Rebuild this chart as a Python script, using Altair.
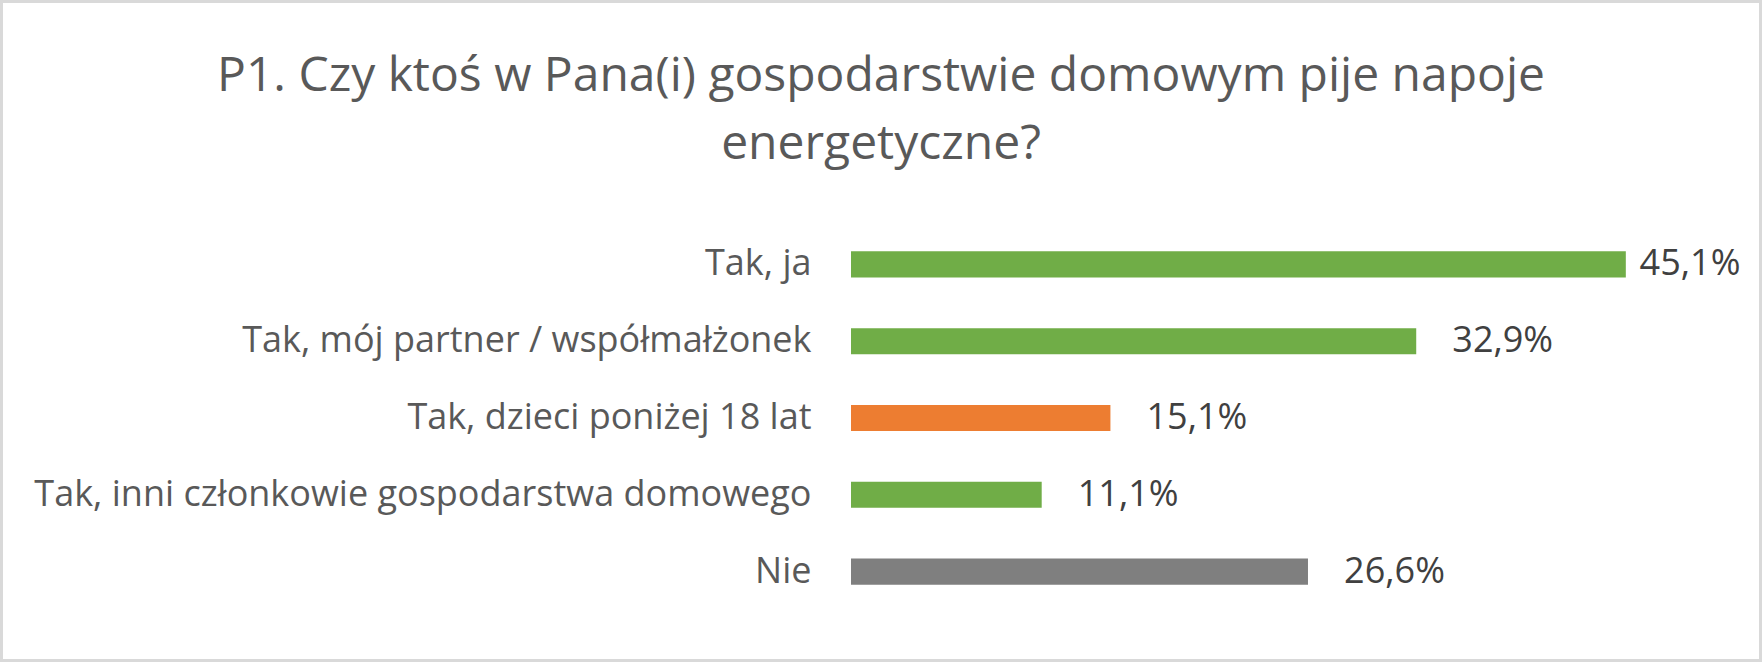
import altair as alt
import pandas as pd

categories = [
    "Tak, ja",
    "Tak, mój partner / współmałżonek",
    "Tak, dzieci poniżej 18 lat",
    "Tak, inni członkowie gospodarstwa domowego",
    "Nie",
]
values = [45.1, 32.9, 15.1, 11.1, 26.6]
bar_colors = ["#70AD47", "#70AD47", "#ED7D31", "#70AD47", "#7F7F7F"]
title_lines = ["P1. Czy ktoś w Pana(i) gospodarstwie domowym pije napoje", "energetyczne?"]

df = pd.DataFrame({"category": categories, "pct": values})

FONT = "Open Sans"
W, H = 859, 384

base = alt.Chart(df).encode(
    y=alt.Y(
        "category:N",
        sort=categories,
        scale=alt.Scale(paddingInner=0.66, paddingOuter=0.33),
        axis=alt.Axis(
            title=None, ticks=False, domain=False, grid=False,
            labelFont=FONT, labelFontSize=36, labelColor="#595959",
            labelPadding=40, labelLimit=1000,
        ),
    )
)

bars = base.mark_bar().encode(
    x=alt.X("pct:Q", scale=alt.Scale(domain=[0, 50], nice=False), axis=None),
    color=alt.Color("category:N", scale=alt.Scale(domain=categories, range=bar_colors), legend=None),
)

labels = base.transform_calculate(
    label="replace(format(datum.pct, '.1f'), '.', ',') + '%'",
    lx="datum.pct + (datum.pct > 44 ? 0.8 : 2.1)",
).mark_text(
    align="left", baseline="middle", font=FONT, fontSize=36, color="#404040"
).encode(
    x=alt.X("lx:Q", scale=alt.Scale(domain=[0, 50], nice=False), axis=None),
    text="label:N",
)

frame = alt.Chart(alt.Data(values=[{}])).mark_rect(
    fill="white", fillOpacity=0, stroke="#D9D9D9", strokeWidth=3
).encode(
    x=alt.value(1.5 - 851), x2=alt.value(1760.5 - 851),
    y=alt.value(1.5 - 226), y2=alt.value(660.5 - 226),
)

chart = alt.layer(frame, bars, labels).properties(
    width=W, height=H,
    autosize=alt.AutoSizeParams(type="none"),
    padding={"left": 851, "top": 226, "right": 52, "bottom": 52},
    background="white",
    title=alt.TitleParams(
        text=title_lines, anchor="middle", frame="group",
        font=FONT, fontSize=48, fontWeight="normal", color="#595959",
        lineHeight=68, dx=-399.5, offset=0, dy=206.5, baseline="alphabetic",
    ),
).configure_view(stroke=None)

chart.save("out.html", embed_options={"renderer": "svg", "actions": False})
